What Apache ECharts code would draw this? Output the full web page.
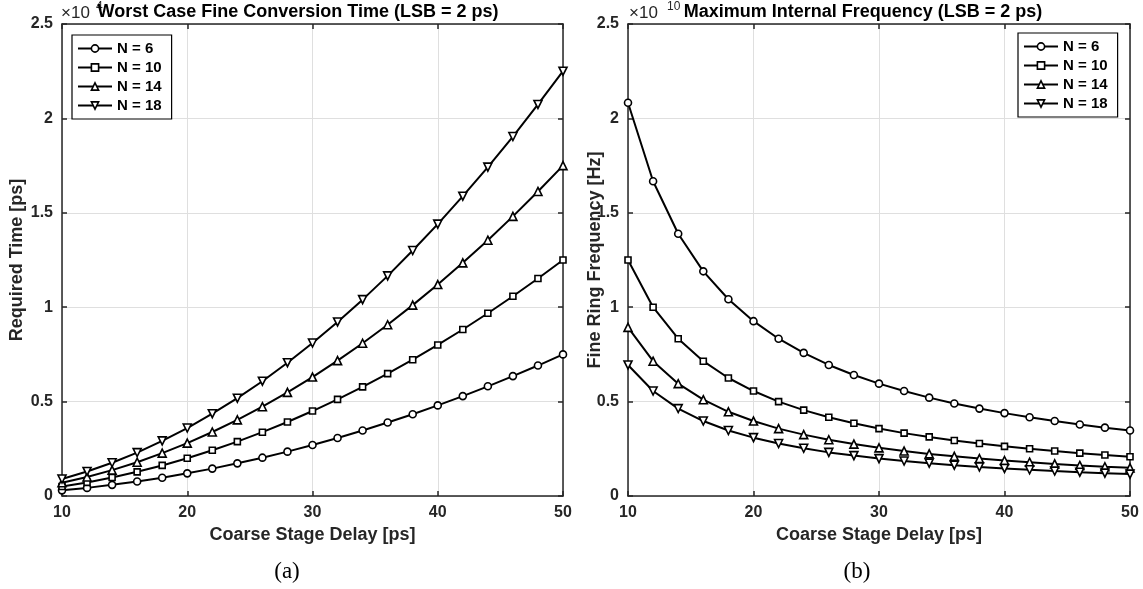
<!DOCTYPE html>
<html>
<head>
<meta charset="utf-8">
<script src="https://cdn.jsdelivr.net/npm/echarts@6/dist/echarts.min.js"></script>
<style>html,body{margin:0;padding:0;background:#fff}#c{width:1143px;height:589px}</style>
</head>
<body>
<div id="c"></div>
<script>
// Coarse stage delay [ps]
const delays = [10,12,14,16,18,20,22,24,26,28,30,32,34,36,38,40,42,44,46,48,50];
const seriesNames = ['N = 6','N = 10','N = 14','N = 18'];
// (a) Required time, units of 1e4 ps
const timeN6  = [0.030,0.043,0.059,0.077,0.097,0.120,0.145,0.173,0.203,0.235,0.270,0.307,0.347,0.389,0.433,0.480,0.529,0.581,0.635,0.691,0.750];
const timeN10 = [0.050,0.072,0.098,0.128,0.162,0.200,0.242,0.288,0.338,0.392,0.450,0.512,0.578,0.648,0.722,0.800,0.882,0.968,1.058,1.152,1.250];
const timeN14 = [0.070,0.101,0.137,0.179,0.227,0.280,0.339,0.403,0.473,0.549,0.630,0.717,0.809,0.907,1.011,1.120,1.235,1.355,1.481,1.613,1.750];
const timeN18 = [0.090,0.130,0.176,0.230,0.292,0.360,0.436,0.518,0.608,0.706,0.810,0.922,1.040,1.166,1.300,1.440,1.588,1.742,1.904,2.074,2.250];
// (b) Fine ring frequency, units of 1e10 Hz
const freqN6  = [2.083,1.667,1.389,1.190,1.042,0.926,0.833,0.758,0.694,0.641,0.595,0.556,0.521,0.490,0.463,0.439,0.417,0.397,0.379,0.362,0.347];
const freqN10 = [1.250,1.000,0.833,0.714,0.625,0.556,0.500,0.455,0.417,0.385,0.357,0.333,0.313,0.294,0.278,0.263,0.250,0.238,0.227,0.217,0.208];
const freqN14 = [0.893,0.714,0.595,0.510,0.446,0.397,0.357,0.325,0.298,0.275,0.255,0.238,0.223,0.210,0.198,0.188,0.179,0.170,0.162,0.155,0.149];
const freqN18 = [0.694,0.556,0.463,0.397,0.347,0.309,0.278,0.253,0.231,0.214,0.198,0.185,0.174,0.163,0.154,0.146,0.139,0.132,0.126,0.121,0.116];
const xTicks = [10,20,30,40,50];
const yTicks = [0,0.5,1,1.5,2,2.5];

const symbols = ['circle','rect','triangle','path://M0,0L10,0L5,9Z'];
const symSizes = [7,6,8,8];
const FONT = '"Liberation Sans", Arial, Helvetica, sans-serif';
const AX = '#262626';

function mkSeries(vals, i, gi) {
  return {
    type:'line', name: seriesNames[i], xAxisIndex: gi, yAxisIndex: gi,
    data: delays.map((d,k)=>[d, vals[k]]),
    symbol: symbols[i], symbolSize: symSizes[i], showSymbol:true,
    lineStyle:{color:'#000', width:2},
    itemStyle:{color:'#fff', borderColor:'#000', borderWidth:1.6},
    emphasis:{disabled:true}, z: 5
  };
}

function mainX(gi, name) {
  return {
    type:'value', gridIndex: gi, min: xTicks[0], max: xTicks[xTicks.length-1], interval: 10,
    name: name, nameLocation:'middle', nameGap: 30, nameMoveOverlap:false,
    nameTextStyle:{fontFamily:FONT, fontWeight:'bold', fontSize:18, color:AX},
    axisLine:{show:true, onZero:false, lineStyle:{color:AX, width:1.5}},
    axisTick:{show:true, inside:true, length:5, lineStyle:{color:AX, width:1.5}},
    axisLabel:{fontFamily:FONT, fontWeight:'bold', fontSize:16, color:AX, margin:9},
    splitLine:{show:true, lineStyle:{color:'#dfdfdf', width:1}}
  };
}
function topX(gi) {
  return {
    type:'value', gridIndex: gi, position:'top', min: 10, max: 50, interval: 10,
    axisLine:{show:true, onZero:false, lineStyle:{color:AX, width:1.5}},
    axisTick:{show:true, inside:true, length:5, lineStyle:{color:AX, width:1.5}},
    axisLabel:{show:false}, splitLine:{show:false}
  };
}
function mainY(gi, name, gap) {
  return {
    type:'value', gridIndex: gi, min: yTicks[0], max: yTicks[yTicks.length-1], interval: 0.5,
    name: name, nameLocation:'middle', nameGap: gap, nameMoveOverlap:false,
    nameTextStyle:{fontFamily:FONT, fontWeight:'bold', fontSize:18, color:AX},
    axisLine:{show:true, onZero:false, lineStyle:{color:AX, width:1.5}},
    axisTick:{show:true, inside:true, length:5, lineStyle:{color:AX, width:1.5}},
    axisLabel:{fontFamily:FONT, fontWeight:'bold', fontSize:16, color:AX, margin:9},
    splitLine:{show:true, lineStyle:{color:'#dfdfdf', width:1}}
  };
}
function rightY(gi) {
  return {
    type:'value', gridIndex: gi, position:'right', min: 0, max: 2.5, interval: 0.5,
    axisLine:{show:true, onZero:false, lineStyle:{color:AX, width:1.5}},
    axisTick:{show:true, inside:true, length:5, lineStyle:{color:AX, width:1.5}},
    axisLabel:{show:false}, splitLine:{show:false}
  };
}
function mkLegend(left, top) {
  return {
    orient:'vertical', left: left, top: top, data: seriesNames,
    itemWidth: 34, itemHeight: 9, itemGap: 4,
    itemStyle:{borderWidth:1.6},
    padding:[6,10,6,5], borderColor:'#000', borderWidth:1.2, backgroundColor:'#fff',
    selectedMode:false,
    textStyle:{fontFamily:FONT, fontWeight:'bold', fontSize:15, color:'#000', lineHeight:14}
  };
}

const chart = echarts.init(document.getElementById('c'), null, {renderer:'canvas'});
chart.setOption({
  animation:false,
  backgroundColor:'#fff',
  grid:[
    {left:62, top:24, width:501, height:472},
    {left:628, top:24, width:502, height:472}
  ],
  xAxis:[ mainX(0,'Coarse Stage Delay [ps]'), mainX(1,'Coarse Stage Delay [ps]'), topX(0), topX(1) ],
  yAxis:[ mainY(0,'Required Time [ps]',36), mainY(1,'Fine Ring Frequency [Hz]',24), rightY(0), rightY(1) ],
  legend:[ mkLegend(72,35), mkLegend(1018,33) ],
  series:[
    mkSeries(timeN6,0,0), mkSeries(timeN10,1,0), mkSeries(timeN14,2,0), mkSeries(timeN18,3,0),
    mkSeries(freqN6,0,1), mkSeries(freqN10,1,1), mkSeries(freqN14,2,1), mkSeries(freqN18,3,1)
  ],
  graphic:[
    {type:'text', left:61, top:5, style:{text:'×10', fontFamily:FONT, fontSize:17, fill:AX}},
    {type:'text', left:96, top:1, style:{text:'4', fontFamily:FONT, fontSize:12, fill:AX}},
    {type:'text', left:629, top:5, style:{text:'×10', fontFamily:FONT, fontSize:17, fill:AX}},
    {type:'text', left:667, top:1, style:{text:'10', fontFamily:FONT, fontSize:12, fill:AX}},
    {type:'text', x:298, y:12, style:{text:'Worst Case Fine Conversion Time (LSB = 2 ps)', fontFamily:FONT, fontWeight:'bold', fontSize:18, fill:'#000', align:'center', verticalAlign:'middle'}},
    {type:'text', x:863, y:12, style:{text:'Maximum Internal Frequency (LSB = 2 ps)', fontFamily:FONT, fontWeight:'bold', fontSize:18, fill:'#000', align:'center', verticalAlign:'middle'}},
    {type:'text', x:287, y:572, style:{text:'(a)', fontFamily:'"Liberation Serif", "DejaVu Serif", serif', fontSize:23, fill:'#000', align:'center', verticalAlign:'middle'}},
    {type:'text', x:857, y:572, style:{text:'(b)', fontFamily:'"Liberation Serif", "DejaVu Serif", serif', fontSize:23, fill:'#000', align:'center', verticalAlign:'middle'}}
  ]
});
</script>
</body>
</html>
